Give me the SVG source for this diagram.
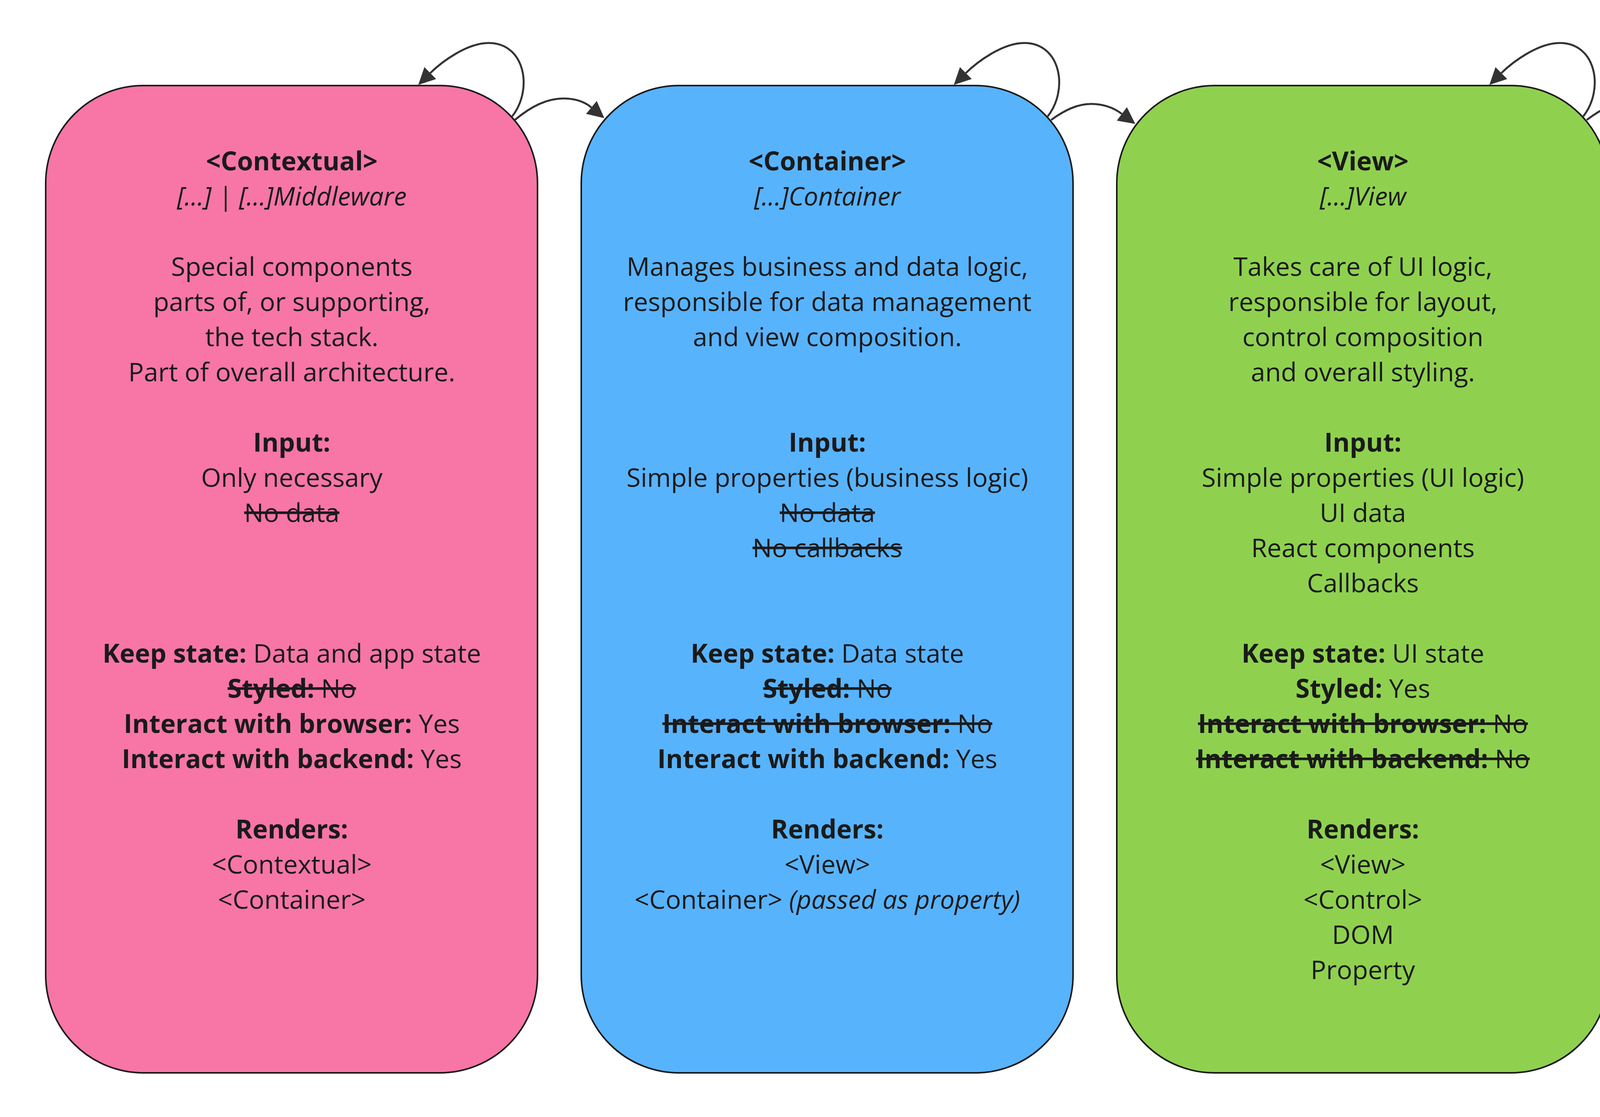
<svg xmlns="http://www.w3.org/2000/svg" width="5596" height="2859" viewBox="0 0 5596 2859">
<style>
.box{stroke:#1a1a1a;stroke-width:4}
.t{font-family:"Open Sans","Noto Sans",sans-serif;font-size:66px;fill:#1a1a1a;text-anchor:middle}
.b{font-weight:700}
.i{font-style:italic}
.s{text-decoration:line-through}
.conn{fill:none;stroke:#333333;stroke-width:5;marker-end:url(#arrow)}
</style>
<defs>
<marker id="arrow" markerUnits="userSpaceOnUse" markerWidth="50" markerHeight="50" refX="0" refY="0" orient="auto" style="overflow:visible">
<path d="M0,-21.5 L43,0 L0,21.5 Z" fill="#333333"/>
</marker>
</defs>
<rect width="5596" height="2859" fill="#ffffff"/>

<g id="contextual">
<rect class="box" x="117" y="219" width="1259" height="2527" rx="250" ry="250" fill="#F776A6"/>
<text class="t b" x="747" y="436">&lt;Contextual&gt;</text>
<text class="t i" x="747" y="526">[...] | [...]Middleware</text>
<text class="t" x="747" y="706">Special components</text>
<text class="t" x="747" y="796">parts of, or supporting,</text>
<text class="t" x="747" y="886">the tech stack.</text>
<text class="t" x="747" y="976">Part of overall architecture.</text>
<text class="t b" x="747" y="1156">Input:</text>
<text class="t" x="747" y="1246">Only necessary</text>
<text class="t s" x="747" y="1336">No data</text>
<text class="t" x="747" y="1696"><tspan class="b">Keep state:</tspan> Data and app state</text>
<text class="t s" x="747" y="1786"><tspan class="b">Styled:</tspan> No</text>
<text class="t" x="747" y="1876"><tspan class="b">Interact with browser:</tspan> Yes</text>
<text class="t" x="747" y="1966"><tspan class="b">Interact with backend:</tspan> Yes</text>
<text class="t b" x="747" y="2146">Renders:</text>
<text class="t" x="747" y="2236">&lt;Contextual&gt;</text>
<text class="t" x="747" y="2326">&lt;Container&gt;</text>
</g>

<g id="container">
<rect class="box" x="1488" y="219" width="1259" height="2527" rx="250" ry="250" fill="#58B3FD"/>
<text class="t b" x="2118" y="436">&lt;Container&gt;</text>
<text class="t i" x="2118" y="526">[...]Container</text>
<text class="t" x="2118" y="706">Manages business and data logic,</text>
<text class="t" x="2118" y="796">responsible for data management</text>
<text class="t" x="2118" y="886">and view composition.</text>
<text class="t b" x="2118" y="1156">Input:</text>
<text class="t" x="2118" y="1246">Simple properties (business logic)</text>
<text class="t s" x="2118" y="1336">No data</text>
<text class="t s" x="2118" y="1426">No callbacks</text>
<text class="t" x="2118" y="1696"><tspan class="b">Keep state:</tspan> Data state</text>
<text class="t s" x="2118" y="1786"><tspan class="b">Styled:</tspan> No</text>
<text class="t s" x="2118" y="1876"><tspan class="b">Interact with browser:</tspan> No</text>
<text class="t" x="2118" y="1966"><tspan class="b">Interact with backend:</tspan> Yes</text>
<text class="t b" x="2118" y="2146">Renders:</text>
<text class="t" x="2118" y="2236">&lt;View&gt;</text>
<text class="t" x="2118" y="2326">&lt;Container&gt; <tspan class="i">(passed as property)</tspan></text>
</g>

<g id="view">
<rect class="box" x="2859" y="219" width="1259" height="2527" rx="250" ry="250" fill="#8FD14F"/>
<text class="t b" x="3489" y="436">&lt;View&gt;</text>
<text class="t i" x="3489" y="526">[...]View</text>
<text class="t" x="3489" y="706">Takes care of UI logic,</text>
<text class="t" x="3489" y="796">responsible for layout,</text>
<text class="t" x="3489" y="886">control composition</text>
<text class="t" x="3489" y="976">and overall styling.</text>
<text class="t b" x="3489" y="1156">Input:</text>
<text class="t" x="3489" y="1246">Simple properties (UI logic)</text>
<text class="t" x="3489" y="1336">UI data</text>
<text class="t" x="3489" y="1426">React components</text>
<text class="t" x="3489" y="1516">Callbacks</text>
<text class="t" x="3489" y="1696"><tspan class="b">Keep state:</tspan> UI state</text>
<text class="t" x="3489" y="1786"><tspan class="b">Styled:</tspan> Yes</text>
<text class="t s" x="3489" y="1876"><tspan class="b">Interact with browser:</tspan> No</text>
<text class="t s" x="3489" y="1966"><tspan class="b">Interact with backend:</tspan> No</text>
<text class="t b" x="3489" y="2146">Renders:</text>
<text class="t" x="3489" y="2236">&lt;View&gt;</text>
<text class="t" x="3489" y="2326">&lt;Control&gt;</text>
<text class="t" x="3489" y="2416">DOM</text>
<text class="t" x="3489" y="2506">Property</text>
</g>

<g id="control">
<rect class="box" x="4230" y="219" width="1259" height="2527" rx="250" ry="250" fill="#CEE741"/>
<text class="t b" x="4860" y="436">&lt;Control&gt;</text>
<text class="t i" x="4860" y="526">[...]</text>
<text class="t" x="4860" y="706">Generic UI component</text>
<text class="t" x="4860" y="796">like a header or button,</text>
<text class="t" x="4860" y="886">responsible for their own</text>
<text class="t" x="4860" y="976">styling and behaviour.</text>
<text class="t b" x="4860" y="1156">Input:</text>
<text class="t" x="4860" y="1246">Any</text>
<text class="t" x="4860" y="1696"><tspan class="b">Keep state:</tspan> UI state</text>
<text class="t" x="4860" y="1786"><tspan class="b">Styled:</tspan> Yes</text>
<text class="t s" x="4860" y="1876"><tspan class="b">Interact with browser:</tspan> No</text>
<text class="t s" x="4860" y="1966"><tspan class="b">Interact with backend:</tspan> No</text>
<text class="t b" x="4860" y="2146">Renders:</text>
<text class="t" x="4860" y="2236">&lt;Control&gt;</text>
<text class="t" x="4860" y="2326">DOM</text>
<text class="t" x="4860" y="2416">Property</text>
</g>

<g id="connectors">
<path id="loop-contextual" class="conn" d="M1311,298 C1365,230 1345,110 1251,110 C1195,110 1130,159 1101.5,187"/>
<path id="loop-container" class="conn" d="M2682,298 C2736,230 2716,110 2622,110 C2566,110 2501,159 2472.5,187"/>
<path id="loop-view" class="conn" d="M4053,298 C4107,230 4087,110 3993,110 C3937,110 3872,159 3843.5,187"/>
<path id="loop-control" class="conn" d="M5424,298 C5478,230 5458,110 5364,110 C5308,110 5243,159 5214.5,187"/>
<path id="contextual-container" class="conn" d="M1318,307 C1360,272 1400,252 1443,252 C1465,252 1491,256 1514,275"/>
<path id="container-view" class="conn" d="M2691,307 C2725,282 2758,266 2793,266 C2820,266 2848,273.5 2872,291.5"/>
<path id="view-control" class="conn" d="M4062,307 C4098,280 4132,262 4167,262 C4192,262 4221,270 4245,288.5"/>
</g>
</svg>
